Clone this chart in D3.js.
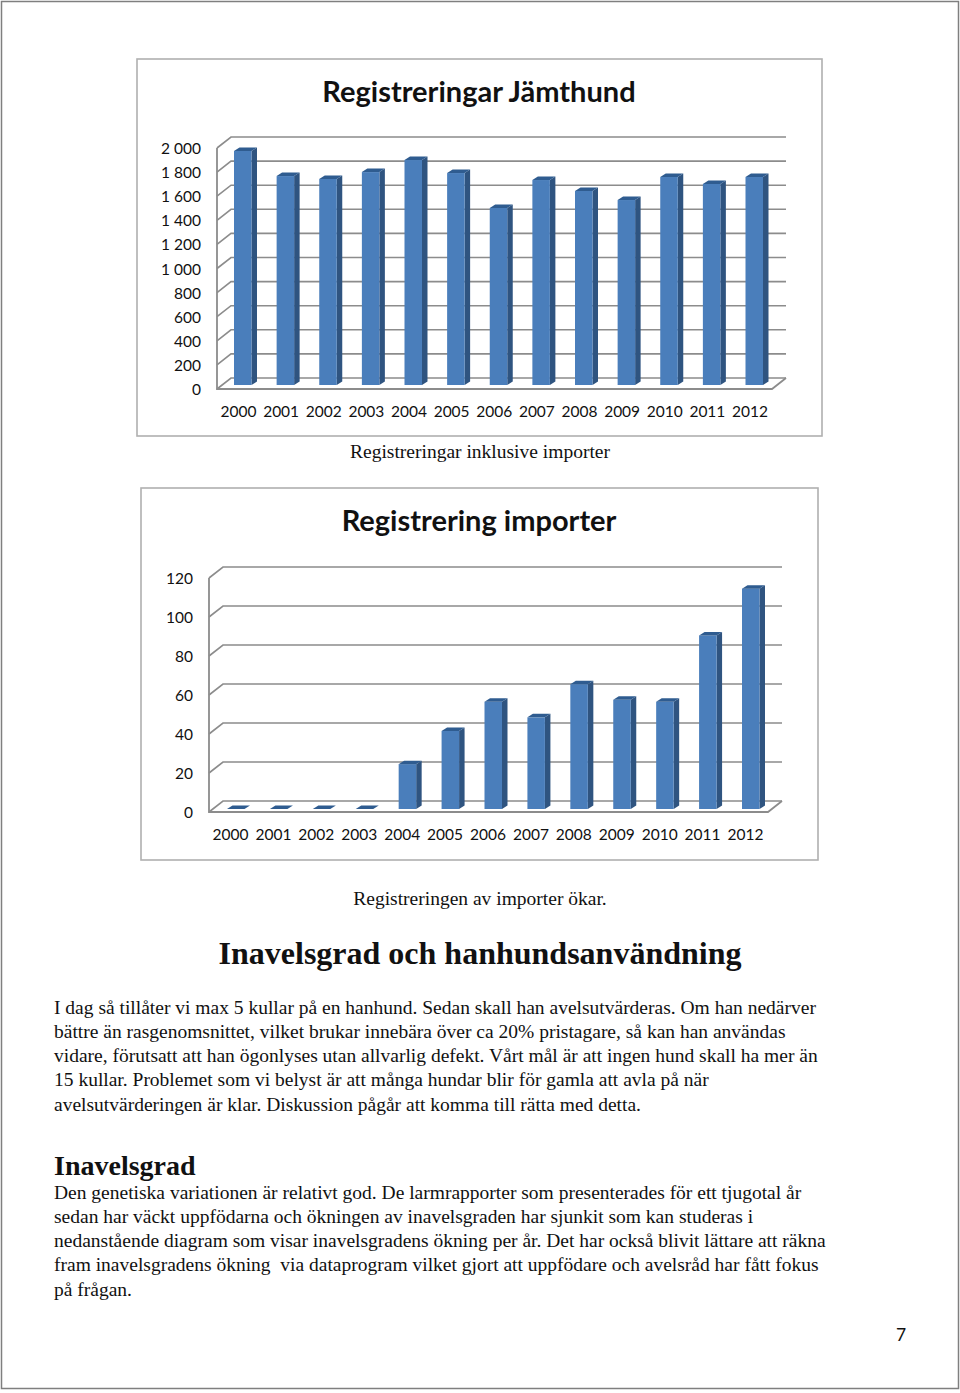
<!DOCTYPE html>
<html><head><meta charset="utf-8">
<script src="https://cdn.jsdelivr.net/npm/d3@7"></script>
<style>html,body{margin:0;padding:0;background:#fff}svg{display:block}</style>
</head><body><svg id="c" width="960" height="1393"></svg>
<script>
const years = ["2000","2001","2002","2003","2004","2005","2006","2007","2008","2009","2010","2011","2012"];
const registreringar = [1942,1734,1710,1767,1867,1759,1469,1701,1610,1535,1726,1668,1726];
const importer = [0,0,0,0,23,40,55,47,64,56,55,89,113];
const ticks1 = [0,200,400,600,800,1000,1200,1400,1600,1800,2000];
const ticks2 = [0,20,40,60,80,100,120];
const tick1Labels = ["0","200","400","600","800","1 000","1 200","1 400","1 600","1 800","2 000"];
const title1 = "Registreringar Jämthund";
const title2 = "Registrering importer";
const caption1 = "Registreringar inklusive importer";
const caption2 = "Registreringen av importer ökar.";
const heading1 = "Inavelsgrad och hanhundsanvändning";
const para1 = ["I dag så tillåter vi max 5 kullar på en hanhund. Sedan skall han avelsutvärderas. Om han nedärver",
"bättre än rasgenomsnittet, vilket brukar innebära över ca 20% pristagare, så kan han användas",
"vidare, förutsatt att han ögonlyses utan allvarlig defekt. Vårt mål är att ingen hund skall ha mer än",
"15 kullar. Problemet som vi belyst är att många hundar blir för gamla att avla på när",
"avelsutvärderingen är klar. Diskussion pågår att komma till rätta med detta."];
const heading2 = "Inavelsgrad";
const para2 = ["Den genetiska variationen är relativt god. De larmrapporter som presenterades för ett tjugotal år",
"sedan har väckt uppfödarna och ökningen av inavelsgraden har sjunkit som kan studeras i",
"nedanstående diagram som visar inavelsgradens ökning per år. Det har också blivit lättare att räkna",
"fram inavelsgradens ökning  via dataprogram vilket gjort att uppfödare och avelsråd har fått fokus",
"på frågan."];

const svg = d3.select("#c");
const SERIF = "'Liberation Serif','Times New Roman',serif", SANS = "Lato,'Open Sans',sans-serif";
svg.append("rect").attr("x",1.5).attr("y",1.5).attr("width",957).attr("height",1387).attr("fill","#fff").attr("stroke","#7f7f7f").attr("stroke-width",1.5);

function chart(o){
  const g = svg.append("g");
  g.append("rect").attr("x",o.box[0]).attr("y",o.box[1]).attr("width",o.box[2]-o.box[0]).attr("height",o.box[3]-o.box[1])
    .attr("fill","#fff").attr("stroke","#b0b0b0").attr("stroke-width",1.6);
  g.append("text").attr("x",o.titleX).attr("y",o.titleY).attr("text-anchor","middle")
    .attr("font-family",SANS).attr("font-weight",700).attr("font-size",o.titleSize).attr("fill","#111").text(title=o.title);
  const y = d3.scaleLinear().domain(o.domain).range([o.y0,o.y1]);
  const dx=o.depthX, dy=o.depthY;
  const grid="#8c8c8c";
  // walls and gridlines
  o.ticks.forEach(t=>{
    const v=y(t);
    g.append("path").attr("fill","none").attr("stroke",grid).attr("stroke-width",1.6)
      .attr("d",`M${o.x0},${v}L${o.x0+dx},${v-dy}L${o.xBack},${v-dy}`);
  });
  g.append("path").attr("fill","none").attr("stroke",grid).attr("stroke-width",1.8)
    .attr("d",`M${o.x0},${y(o.domain[1])}L${o.x0},${o.y0}L${o.xBack-dx},${o.y0}L${o.xBack},${o.y0-dy}`);
  // y labels
  g.selectAll("text.y").data(o.ticks).join("text").attr("class","y")
    .attr("x",o.x0-16).attr("y",t=>y(t)+6).attr("text-anchor","end")
    .attr("font-family",SANS).attr("font-size",o.fs).attr("fill","#111")
    .text((t,i)=>o.tickLabels?o.tickLabels[i]:t);
  // bars
  const x = d3.scaleLinear().domain([0,12]).range(o.barX);
  const bw=o.barW, sx=5.5, sy=3.5, base=y(0)-o.floorLift, k=y(0)-y(1);
  o.values.forEach((val,i)=>{
    const l=x(i), h=val*k, t=base-h;
    if(val>0){
      g.append("path").attr("fill","#2f5480").attr("d",`M${l+bw},${base}L${l+bw+sx},${base-sy}L${l+bw+sx},${t-sy}L${l+bw},${t}Z`);
      g.append("rect").attr("x",l).attr("y",t).attr("width",bw).attr("height",h).attr("fill","#4a7ebb");
    }
    g.append("path").attr("fill","#2f5c90").attr("d",`M${l},${t}L${l+sx},${t-sy}L${l+bw+sx},${t-sy}L${l+bw},${t}Z`);
  });
  g.selectAll("text.x").data(years).join("text").attr("class","x")
    .attr("x",(d,i)=>x(i)+o.labelDx).attr("y",o.labelY).attr("text-anchor","middle")
    .attr("font-family",SANS).attr("font-size",o.fs).attr("fill","#111").text(d=>d);
}
let title;
chart({box:[137,59,822,436],title:title1,titleX:479,titleY:102,titleSize:29,domain:[0,2000],y0:389,y1:148,x0:217,xBack:786,depthX:14,depthY:11,
  ticks:ticks1,tickLabels:tick1Labels,values:registreringar,barX:[234,745.5],barW:17.5,floorLift:4,fs:15.5,labelDx:4.5,labelY:417});
chart({box:[141,488,818,860],title:title2,titleX:479,titleY:531,titleSize:29,domain:[0,120],y0:812,y1:578,x0:209,xBack:782,depthX:14,depthY:11,
  ticks:ticks2,values:importer,barX:[227,742],barW:17.5,floorLift:3,fs:15.5,labelDx:3.5,labelY:840});

function t(s,x,y,size,opt={}){
  svg.append("text").attr("x",x).attr("y",y).attr("font-family",opt.font||SERIF).attr("font-size",size)
   .attr("font-weight",opt.w||400).attr("text-anchor",opt.a||"start").attr("fill",opt.c||"#111").attr("xml:space","preserve").style("white-space","pre").text(s);
}
t(caption1,480,458,19.5,{a:"middle"});
t(caption2,480,905,19.5,{a:"middle"});
t(heading1,480,964,32,{a:"middle",w:700});
para1.forEach((s,i)=>t(s,54,1013.5+i*24.3,19.5));
t(heading2,54,1175,28,{w:700});
para2.forEach((s,i)=>t(s,54,1198.5+i*24.3,19.5));
t("7",901,1341,17.5,{a:"middle",font:SANS});
</script></body></html>
